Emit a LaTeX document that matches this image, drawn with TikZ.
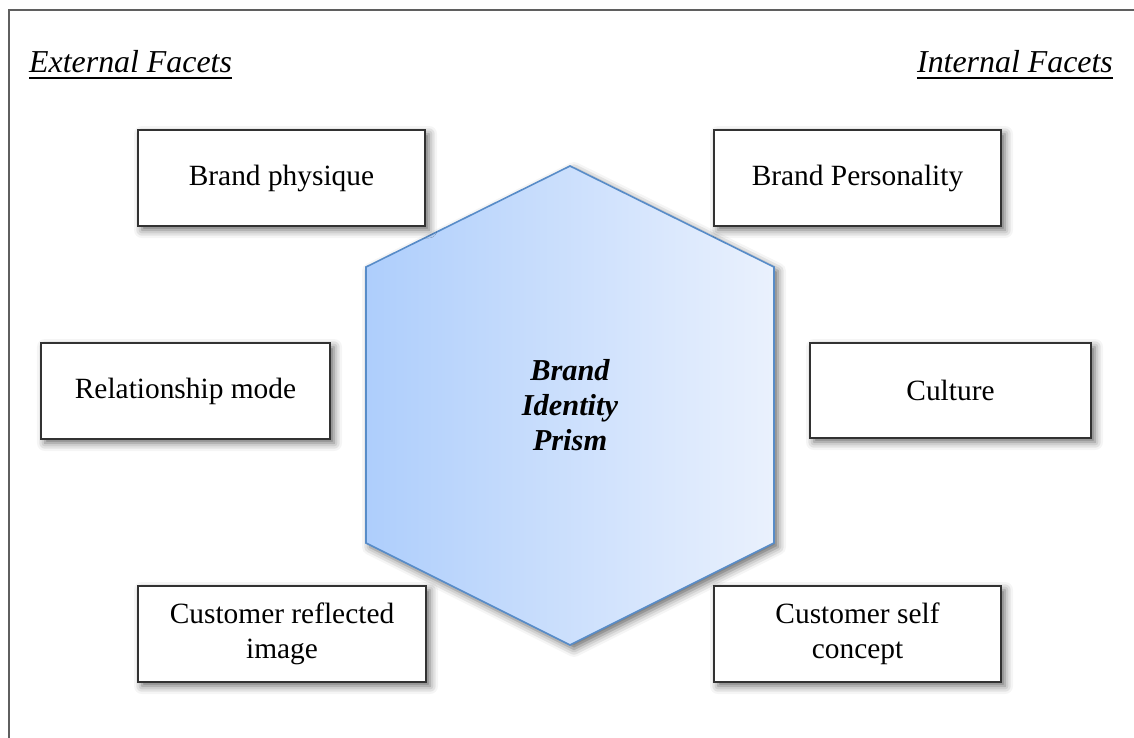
\documentclass[tikz,border=0pt]{standalone}
\usepackage{fontspec}
\setmainfont{Liberation Serif}
\usetikzlibrary{shadows.blur}

\definecolor{framegray}{RGB}{95,95,95}
\definecolor{boxline}{RGB}{50,50,50}
\definecolor{prismleft}{RGB}{174,206,252}
\definecolor{prismright}{RGB}{234,241,253}
\definecolor{prismline}{RGB}{88,140,200}

\tikzset{
  softshadow/.style={blur shadow={shadow xshift=4bp, shadow yshift=-4bp,
      shadow blur radius=8bp, shadow opacity=60}},
  facet/.style={draw=boxline, line width=1.6bp, fill=white, align=center,
    minimum width=287bp, minimum height=96bp, inner sep=0pt,
    font=\fontsize{29.5}{35}\selectfont, softshadow},
  heading/.style={inner sep=0pt, font=\fontsize{32}{38}\selectfont\itshape},
  prism/.style={draw=prismline, line width=1.6bp,
    left color=prismleft, right color=prismright, softshadow},
  prismtext/.style={align=center, inner sep=0pt,
    font=\fontsize{30.5}{35}\selectfont\bfseries\itshape}
}

\begin{document}
\begin{tikzpicture}[x=1bp, y=-1bp]
\useasboundingbox (0,0) rectangle (1134,738);

% open frame along the left and top
\draw[framegray, line width=2bp] (9,740) -- (9,10) -- (1136,10);

% column headings
\node[heading, anchor=base west] (ext) at (29,73) {External Facets};
\node[heading, anchor=base east] (int) at (1113,73) {Internal Facets};
\draw[line width=1.3bp] ([yshift=-5bp]ext.base west) -- ([yshift=-5bp]ext.base east);
\draw[line width=1.3bp] ([yshift=-5bp]int.base west) -- ([yshift=-5bp]int.base east);

% the prism
\path[prism] (366,267) -- (570,166) -- (774,267) -- (774,543)
  -- (570,645) -- (366,543) -- cycle;
\node[prismtext] (core) at (570,405) {Brand\\Identity\\Prism};

% the six facets
\node[facet] (physique) at (281.5,178) {Brand physique};
\node[facet] (personality) at (857.5,178) {Brand Personality};
\node[facet, minimum width=289bp] (relation) at (185.5,391) {Relationship mode};
\node[facet, minimum width=281bp, minimum height=95bp] (culture) at (950.5,390.5) {Culture};
\node[facet, minimum width=288bp] (reflected) at (282,634) {Customer reflected\\image};
\node[facet] (selfconcept) at (857.5,634) {Customer self\\concept};
\end{tikzpicture}
\end{document}
